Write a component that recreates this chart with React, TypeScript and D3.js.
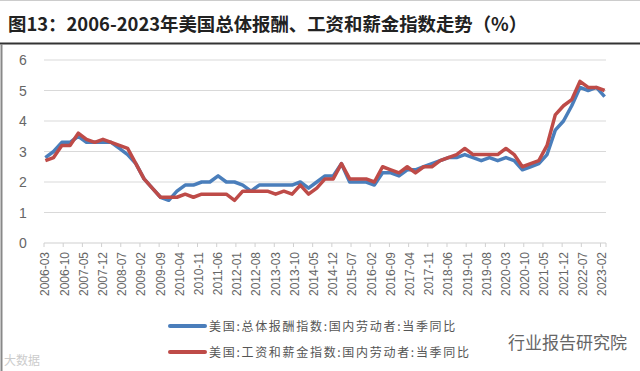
import React, { FC, useMemo } from 'react'
import * as d3 from 'd3'

// 季度数据 2006Q1 - 2023Q1
const totalComp: number[] = [
	2.8, 3.0, 3.3, 3.3,
	3.5, 3.3, 3.3, 3.3,
	3.3, 3.1, 2.9, 2.6,
	2.1, 1.8, 1.5, 1.4,
	1.7, 1.9, 1.9, 2.0,
	2.0, 2.2, 2.0, 2.0,
	1.9, 1.7, 1.9, 1.9,
	1.9, 1.9, 1.9, 2.0,
	1.8, 2.0, 2.2, 2.2,
	2.6, 2.0, 2.0, 2.0,
	1.9, 2.3, 2.3, 2.2,
	2.4, 2.4, 2.5, 2.6,
	2.7, 2.8, 2.8, 2.9,
	2.8, 2.7, 2.8, 2.7,
	2.8, 2.7, 2.4, 2.5,
	2.6, 2.9, 3.7, 4.0,
	4.5, 5.1, 5.0, 5.1,
	4.8
]

const wages: number[] = [
	2.7, 2.8, 3.2, 3.2,
	3.6, 3.4, 3.3, 3.4,
	3.3, 3.2, 3.1, 2.6,
	2.1, 1.8, 1.5, 1.5,
	1.5, 1.6, 1.5, 1.6,
	1.6, 1.6, 1.6, 1.4,
	1.7, 1.7, 1.7, 1.7,
	1.6, 1.7, 1.6, 1.9,
	1.6, 1.8, 2.1, 2.1,
	2.6, 2.1, 2.1, 2.1,
	2.0, 2.5, 2.4, 2.3,
	2.5, 2.3, 2.5, 2.5,
	2.7, 2.8, 2.9, 3.1,
	2.9, 2.9, 2.9, 2.9,
	3.1, 2.9, 2.5, 2.6,
	2.7, 3.2, 4.2, 4.5,
	4.7, 5.3, 5.1, 5.1,
	5.0
]

const yTicks = [0, 1, 2, 3, 4, 5, 6]
const seriesNames = [
	'美国:总体报酬指数:国内劳动者:当季同比',
	'美国:工资和薪金指数:国内劳动者:当季同比'
]
const colors = ['#4A7EBB', '#BE4B48']

const fmt = d3.timeFormat('%Y-%m')
const months = d3.timeMonth.range(new Date(2006, 2, 1), new Date(2023, 3, 1)).map(fmt)
const quarterMonths = totalComp.map((_, i) => months[i * 3])

const W = 640
const H = 371
const left = 44
const right = 606
const top = 60
const bottom = 243

const App: FC = () => {
	const x = useMemo(() => d3.scaleBand().domain(months).range([left, right]), [])
	const y = useMemo(() => d3.scaleLinear().domain([0, 6]).range([bottom, top]), [])
	const bw = x.bandwidth()

	const line = d3
		.line<number>()
		.x((_, i) => (x(quarterMonths[i]) as number) + bw / 2)
		.y((d) => y(d))

	const tickMonths = months.filter((_, i) => i % 7 === 0)

	return (
		<svg
			width={W}
			height={H}
			style={{ position: 'absolute', left: 0, top: 0, background: '#fff' }}
			fontFamily="'Liberation Sans', Arial, sans-serif"
		>
			<rect x={0} y={0} width={W} height={H} fill="#fff" />
			{/* 标题 */}
			<line x1={0} x2={W} y1={0.5} y2={0.5} stroke="#ccc" />
			<text
				x={8}
				y={31}
				fontSize={18.4}
				fontWeight="bold"
				fill="#222"
				fontFamily="'Noto Sans CJK SC', sans-serif"
			>
				图13：2006-2023年美国总体报酬、工资和薪金指数走势（%）
			</text>
			<line x1={0} x2={W} y1={43.5} y2={43.5} stroke="#333" strokeWidth={2} />
			<line x1={1.5} x2={1.5} y1={44} y2={H} stroke="#888" strokeWidth={2} />

			{/* 网格 */}
			{yTicks.map((t) => (
				<g key={t}>
					{t > 0 && (
						<line x1={left} x2={right} y1={y(t)} y2={y(t)} stroke="#d9d9d9" strokeWidth={1.2} />
					)}
					<text x={23} y={y(t) + 5} fontSize={14} fill="#666" textAnchor="middle">
						{t}
					</text>
				</g>
			))}
			<line x1={left} x2={right} y1={bottom} y2={bottom} stroke="#d0d0d0" strokeWidth={1.2} />
			{tickMonths.map((m) => (
				<line
					key={'t' + m}
					x1={x(m) as number}
					x2={x(m) as number}
					y1={bottom}
					y2={bottom + 4}
					stroke="#d0d0d0"
				/>
			))}
			<line x1={right} x2={right} y1={bottom} y2={bottom + 4} stroke="#d0d0d0" />
			{tickMonths.map((m) => {
				const cx = (x(m) as number) + bw / 2 + 4
				return (
					<text
						key={'l' + m}
						transform={`translate(${cx},252) rotate(-90)`}
						textAnchor="end"
						fontSize={12}
						fill="#666"
					>
						{m}
					</text>
				)
			})}

			{/* 折线 */}
			{[totalComp, wages].map((s, k) => (
				<path
					key={k}
					d={line(s) || ''}
					fill="none"
					stroke={colors[k]}
					strokeWidth={3.5}
					strokeLinejoin="round"
				/>
			))}

			{/* 图例 */}
			{seriesNames.map((n, k) => (
				<g key={n} transform={`translate(0, ${326 + k * 26})`}>
					<line x1={170} x2={205} y1={0} y2={0} stroke={colors[k]} strokeWidth={4} strokeLinecap="round" />
					<text
						x={209}
						y={4.5}
						fontSize={12}
						letterSpacing={1.7}
						fill="#555"
						fontFamily="'Noto Sans CJK SC', sans-serif"
					>
						{n}
					</text>
				</g>
			))}

			{/* 水印 */}
			<text x={508} y={349} fontSize={17} fill="#666" fontFamily="'Noto Sans CJK SC', sans-serif">
				行业报告研究院
			</text>
			<text x={4} y={365} fontSize={12} fill="#ccc" fontFamily="'Noto Sans CJK SC', sans-serif">
				大数据
			</text>
		</svg>
	)
}

export default App
